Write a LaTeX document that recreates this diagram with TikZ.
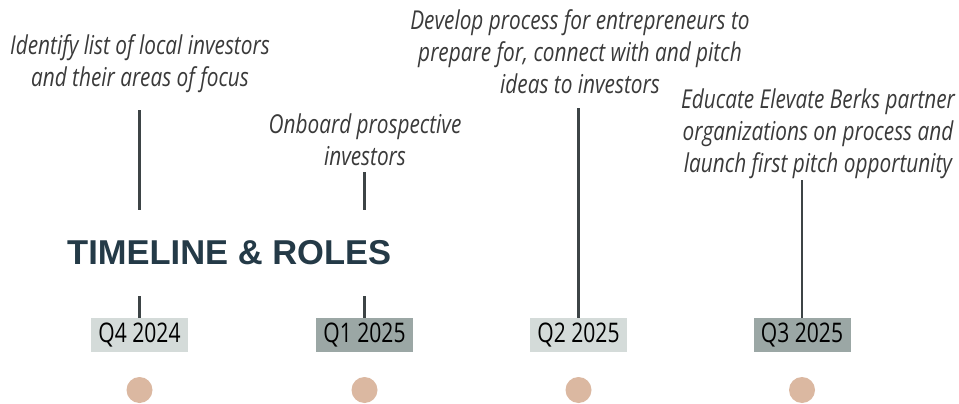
\documentclass[tikz,border=0pt]{standalone}
\usepackage{fontspec}
\setmainfont{Open Sans}
\newfontfamily\notefont[FakeStretch=0.8]{Open Sans}
\newfontfamily\boxfont[FakeStretch=0.78]{Open Sans}
\newfontfamily\titlefont{Liberation Sans}
\definecolor{txtgray}{HTML}{3A3A3A}
\definecolor{linegray}{HTML}{3D4446}
\definecolor{titleblue}{HTML}{243A47}
\definecolor{boxlight}{HTML}{D4DBD9}
\definecolor{boxdark}{HTML}{9BA7A5}
\definecolor{dotcol}{HTML}{DBB8A1}
\tikzset{
  note/.style={align=center, text=txtgray, inner sep=0pt,
    font=\notefont\itshape\fontsize{26}{32}\selectfont},
  qbox/.style={minimum width=97pt, minimum height=34pt, inner sep=0pt,
    text=black, font=\boxfont\fontsize{27}{30}\selectfont},
  tick/.style={draw=linegray, line width=2.6pt},
  dot/.style={circle, fill=dotcol, minimum size=26pt, inner sep=0pt}
}
\begin{document}
\begin{tikzpicture}[x=1pt,y=-1pt]
\useasboundingbox[fill=white] (0,0) rectangle (959,404);

% notes
\node[note] (n1) at (140,64) {Identify list of local investors\\and their areas of focus};
\node[note] (n2) at (365,140) {Onboard prospective\\investors};
\node[note] (n3) at (580,52) {Develop process for entrepreneurs to\\prepare for, connect with and pitch\\ideas to investors};
\node[note] (n4) at (818,134) {Educate Elevate Berks partner\\organizations on process and\\launch first pitch opportunity};

% title
\node[inner sep=0pt, anchor=west, text=titleblue, font=\titlefont\bfseries\fontsize{34.5}{40}\selectfont] (title) at (67,253) {TIMELINE \& ROLES};

% quarter boxes
\node[qbox, fill=boxlight] (q4) at (139.5,335) {Q4 2024};
\node[qbox, fill=boxdark] (q1) at (364.5,335) {Q1 2025};
\node[qbox, fill=boxlight] (q2) at (578.5,335) {Q2 2025};
\node[qbox, fill=boxdark] (q3) at (802,335) {Q3 2025};

% dots
\node[dot] (d1) at (139.5,390) {};
\node[dot] (d2) at (364.5,390) {};
\node[dot] (d3) at (578.5,390) {};
\node[dot] (d4) at (802,390) {};

% line end points
\coordinate (a1) at (139.5,110);
\coordinate (b1) at (139.5,210);
\coordinate (c1) at (139.5,296);
\coordinate (a2) at (364.5,172);
\coordinate (b2) at (364.5,210);
\coordinate (c2) at (364.5,296);
\coordinate (a3) at (578.5,108);
\coordinate (a4) at (802,180);

\draw[tick] (a1) -- (b1);
\draw[tick] (c1) -- (q4.north);
\draw[tick] (a2) -- (b2);
\draw[tick] (c2) -- (q1.north);
\draw[tick] (a3) -- (q2.north);
\draw[tick] (a4) -- (q3.north);
\end{tikzpicture}
\end{document}
